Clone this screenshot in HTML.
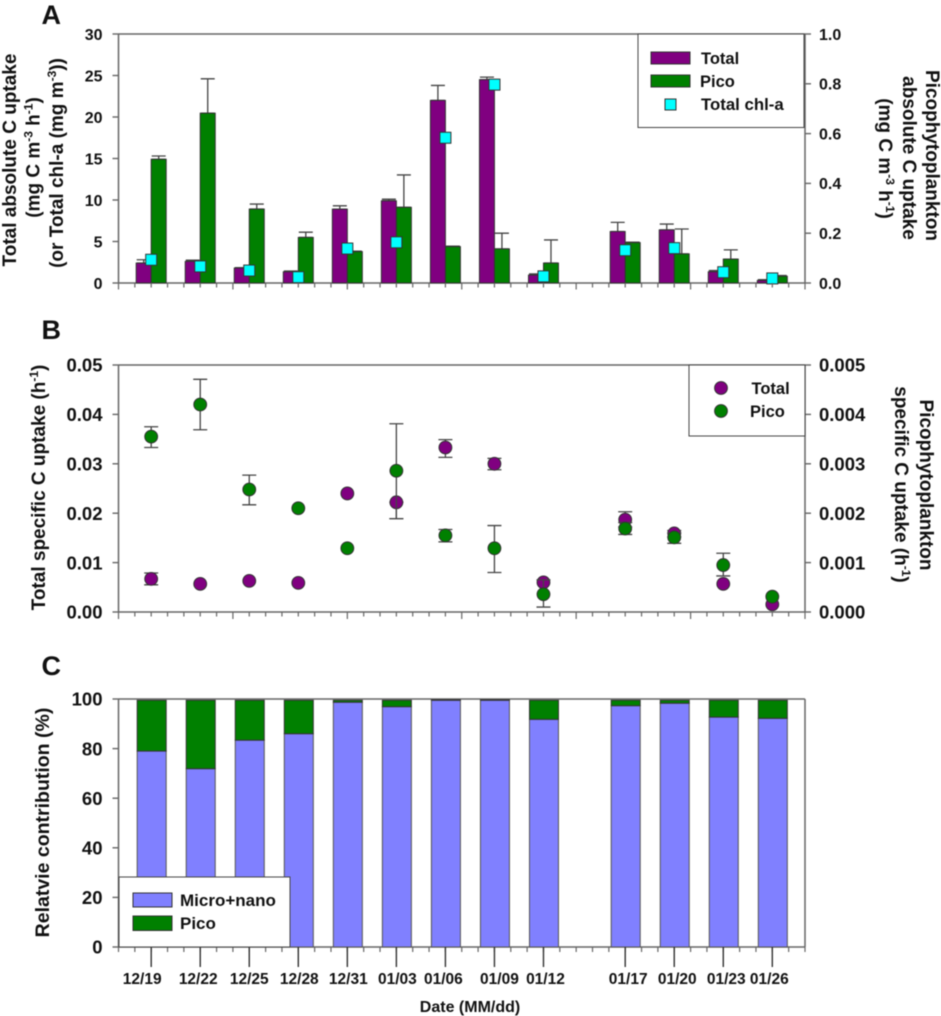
<!DOCTYPE html>
<html lang="en">
<head>
<meta charset="utf-8">
<title>Carbon uptake panels</title>
<style>
html,body{margin:0;padding:0;background:#fff;width:941px;height:1016px;overflow:hidden}
svg{display:block;filter:blur(0.4px)}
text{font-family:"Liberation Sans",sans-serif;font-weight:bold;fill:#111}
</style>
</head>
<body>
<svg id="chart" xmlns="http://www.w3.org/2000/svg" width="941" height="1016" viewBox="0 0 941 1016">
  <rect x="0" y="0" width="941" height="1016" fill="#fff"/>
  <g id="layerA"></g>
  <g id="layerB"></g>
  <g id="layerC"></g>

  <text x="41.5" y="24" font-size="27">A</text>
  <text x="41.5" y="339" font-size="27">B</text>
  <text x="41.5" y="675" font-size="27">C</text>

  <g font-size="19" text-anchor="middle">
    <text transform="translate(16,160) rotate(-90)">Total absolute C uptake</text>
    <text transform="translate(39.5,157.5) rotate(-90)">(mg C m<tspan font-size="12" dy="-7">-3</tspan><tspan dy="7"> h</tspan><tspan font-size="12" dy="-7">-1</tspan><tspan dy="7">)</tspan></text>
    <text transform="translate(63,163) rotate(-90)">(or Total chl-a (mg m<tspan font-size="12" dy="-7">-3</tspan><tspan dy="7">))</tspan></text>
  </g>
  <g font-size="19" text-anchor="middle">
    <text transform="translate(926,155.5) rotate(90)">Picophytoplankton</text>
    <text transform="translate(903,158) rotate(90)">absolute C uptake</text>
    <text transform="translate(879,158.5) rotate(90)">(mg C m<tspan font-size="12" dy="-7">-3</tspan><tspan dy="7"> h</tspan><tspan font-size="12" dy="-7">-1</tspan><tspan dy="7">)</tspan></text>
  </g>
  <text font-size="19" text-anchor="middle" transform="translate(45,487.5) rotate(-90)">Total specific C uptake (h<tspan font-size="12" dy="-7">-1</tspan><tspan dy="7">)</tspan></text>
  <g font-size="19" text-anchor="middle">
    <text transform="translate(920,485) rotate(90)">Picophytoplankton</text>
    <text transform="translate(895,484.5) rotate(90)">specific C uptake (h<tspan font-size="12" dy="-7">-1</tspan><tspan dy="7">)</tspan></text>
  </g>
  <text font-size="19.5" text-anchor="middle" transform="translate(49,822.5) rotate(-90)">Relatvie contribution (%)</text>
  <text font-size="16" text-anchor="middle" x="470" y="1012">Date (MM/dd)</text>
</svg>
<script>
// ---- shared categories ----
const dateLabels = ['12/19','12/22','12/25','12/28','12/31','01/03','01/06','01/09','01/12','01/17','01/20','01/23','01/26'];
const dayIndex = [2,5,8,11,14,17,20,23,26,31,34,37,40];

// ---- panel A values ----
const absTotal = [2.4,2.6,1.8,1.35,8.9,9.9,22,24.5,0.95,6.2,6.4,1.35,0.3];
const absTotalErrTop = [2.8,2.75,1.85,1.45,9.3,10.1,23.8,24.8,1.1,7.3,7.1,1.5,0.4];
const absPico = [0.497,0.682,0.297,0.183,0.126,0.304,0.146,0.137,0.08,0.162,0.117,0.096,0.027];
const absPicoErrTop = [0.51,0.82,0.317,0.204,0.128,0.434,0.148,0.2,0.173,0.164,0.217,0.133,0.03];
const chlA = [2.8,2.0,1.5,0.7,4.15,4.9,17.5,23.9,0.8,3.95,4.2,1.3,0.55];
const ticksALeft = ['0','5','10','15','20','25','30'];
const ticksARight = ['0.0','0.2','0.4','0.6','0.8','1.0'];

// ---- panel B values ----
const specTotal = [0.0067,0.0057,0.0063,0.0059,0.024,0.0222,0.0333,0.030,0.006,0.0187,0.0159,0.0057,0.00155];
const specTotalErrLow = [0.0055,0.0057,0.0063,0.0059,0.024,0.0189,0.0313,0.0288,0.006,0.0172,0.0152,0.0057,0.00155];
const specTotalErrHigh = [0.0079,0.0057,0.0063,0.0059,0.024,0.0222,0.0349,0.0311,0.006,0.0203,0.0165,0.0057,0.00155];
const specPico = [0.00355,0.0042,0.00248,0.0021,0.00129,0.00286,0.00155,0.00129,0.00036,0.00169,0.00151,0.00095,0.00031];
const specPicoErrLow = [0.00333,0.00369,0.00217,0.0021,0.00129,0.00189,0.00142,0.0008,0.0001,0.00157,0.00139,0.00073,0.00031];
const specPicoErrHigh = [0.00375,0.00471,0.00277,0.0021,0.00129,0.00381,0.00167,0.00175,0.00065,0.00181,0.0016,0.00119,0.00031];
const ticksBLeft = ['0.00','0.01','0.02','0.03','0.04','0.05'];
const ticksBRight = ['0.000','0.001','0.002','0.003','0.004','0.005'];

// ---- panel C values ----
const shareMicro = [79,71.9,83.4,86,98.7,96.9,99.5,99.5,91.8,97.3,98.3,92.7,92.2];
const sharePico = [20.5,27.6,16.1,13.5,0.8,2.6,0.2,0.2,7.7,2.2,1.2,6.8,7.3];
const ticksC = ['0','20','40','60','80','100'];

// layout-only horizontal nudges of the printed date labels
const labelNudge = [-9,-2,0,1,1,1,-2,5,2,3,3,3,-3];

const NS = 'http://www.w3.org/2000/svg';
const PURPLE = '#800080', GREEN = '#008000', CYAN = '#00ffff', PERI = '#8080ff';
const EDGE = '#333', AXIS = '#666';
const PLOT_LEFT = 118.5, PLOT_RIGHT = 805, DAY_SPAN = 42;

function svgEl(parent, tag, attrs, text) {
  const el = document.createElementNS(NS, tag);
  for (const k in attrs) el.setAttribute(k, attrs[k]);
  if (text !== undefined) el.textContent = text;
  parent.appendChild(el);
  return el;
}

const xScale = d => PLOT_LEFT + d / DAY_SPAN * (PLOT_RIGHT - PLOT_LEFT);
const linear = (max, bottom, top) => v => bottom - v / max * (bottom - top);

const yALeft = linear(30, 283, 34);
const yARight = linear(1, 283, 34);
const yBLeft = linear(0.05, 612, 365);
const yBRight = linear(0.005, 612, 365);
const yC = linear(100, 947, 699);

const layerA = document.getElementById('layerA');
const layerB = document.getElementById('layerB');
const layerC = document.getElementById('layerC');

function drawFrame(layer, top, bottom, rightDark) {
  const frame = svgEl(layer, 'path', {
    d: `M${PLOT_LEFT} ${top}H${PLOT_RIGHT}M${PLOT_LEFT} ${top}V${bottom}H${PLOT_RIGHT}M${PLOT_RIGHT} ${top}V${bottom}`,
    fill: 'none', stroke: rightDark, 'stroke-width': 1.5
  });
  
  
}

function drawDayTicks(layer, bottom, shortLen, longLen) {
  for (let d = 0; d <= DAY_SPAN; d++) {
    const len = d % 7 === 0 ? longLen : shortLen;
    const t = svgEl(layer, 'line', {
      x1: xScale(d), x2: xScale(d), y1: bottom, y2: bottom + len, stroke: AXIS, 'stroke-width': 1.2
    });
    
    
  }
}

function drawYTicks(layer, labels, scale, side, fontSize) {
  labels.forEach(lab => {
    const y = scale(Number(lab));
    const x0 = side === 'left' ? PLOT_LEFT : PLOT_RIGHT;
    const x1 = side === 'left' ? PLOT_LEFT - 6 : PLOT_RIGHT + 6;
    const t = svgEl(layer, 'line', { x1: x0, x2: x1, y1: y, y2: y, stroke: AXIS, 'stroke-width': 1.4 });
    
    
    const txt = svgEl(layer, 'text', {
      x: side === 'left' ? 102.5 : PLOT_RIGHT + 14,
      y: y + fontSize * 0.36,
      'font-size': fontSize,
      'text-anchor': side === 'left' ? 'end' : 'start'
    }, lab);
    
    
  });
}

function drawError(layer, cx, yHigh, yLow) {
  const e = svgEl(layer, 'path', {
    d: `M${cx} ${yHigh}V${yLow}M${cx - 7} ${yHigh}h14M${cx - 7} ${yLow}h14`,
    stroke: '#444', 'stroke-width': 1.3, fill: 'none'
  });
  
  
}

// ---------- Panel A ----------
drawFrame(layerA, 34, 283, AXIS);
dayIndex.forEach((d, i) => {
  const cx = xScale(d);
  drawError(layerA, cx - 7.5, yALeft(absTotalErrTop[i]), yALeft(absTotal[i]));
  drawError(layerA, cx + 7.5, yARight(absPicoErrTop[i]), yARight(absPico[i]));
  const barT = svgEl(layerA, 'rect', {
    x: cx - 15, y: yALeft(absTotal[i]), width: 15, height: 283 - yALeft(absTotal[i]),
    fill: PURPLE, stroke: EDGE, 'stroke-width': 1
  });
  
  
  const barP = svgEl(layerA, 'rect', {
    x: cx, y: yARight(absPico[i]), width: 15, height: 283 - yARight(absPico[i]),
    fill: GREEN, stroke: EDGE, 'stroke-width': 1
  });
  
  
});
dayIndex.forEach((d, i) => {
  const m = svgEl(layerA, 'rect', {
    x: xScale(d) - 5.5, y: yALeft(chlA[i]) - 5.5, width: 11, height: 11,
    fill: CYAN, stroke: EDGE, 'stroke-width': 1
  });
  
  
});
drawDayTicks(layerA, 283, 4.5, 6.5);
drawYTicks(layerA, ticksALeft, yALeft, 'left', 16);
drawYTicks(layerA, ticksARight, yARight, 'right', 16);

const legendA = svgEl(layerA, 'g', {});


const legendABox = svgEl(legendA, 'rect', { x: 638, y: 34, width: 166, height: 93.5, fill: '#fff', stroke: '#444', 'stroke-width': 1 });


const swatchA1 = svgEl(legendA, 'rect', { x: 651, y: 52, width: 39, height: 12, fill: PURPLE, stroke: EDGE, 'stroke-width': 1 });


const labelA1 = svgEl(legendA, 'text', { x: 701, y: 64, 'font-size': 16.5 }, 'Total');


const swatchA2 = svgEl(legendA, 'rect', { x: 651, y: 75, width: 39, height: 12, fill: GREEN, stroke: EDGE, 'stroke-width': 1 });


const labelA2 = svgEl(legendA, 'text', { x: 700, y: 87, 'font-size': 16.5 }, 'Pico');


const swatchA3 = svgEl(legendA, 'rect', { x: 665, y: 99, width: 11, height: 11, fill: CYAN, stroke: EDGE, 'stroke-width': 1 });


const labelA3 = svgEl(legendA, 'text', { x: 701, y: 110, 'font-size': 16.8 }, 'Total chl-a');



// ---------- Panel B ----------
drawFrame(layerB, 365, 612, AXIS);
dayIndex.forEach((d, i) => {
  const cx = xScale(d);
  if (specTotalErrHigh[i] > specTotalErrLow[i]) {
    drawError(layerB, cx, yBLeft(specTotalErrHigh[i]), yBLeft(specTotalErrLow[i]));
  }
  const dotT = svgEl(layerB, 'circle', { cx: cx, cy: yBLeft(specTotal[i]), r: 6.4, fill: PURPLE, stroke: EDGE, 'stroke-width': 1 });
  
  
});
dayIndex.forEach((d, i) => {
  const cx = xScale(d);
  if (specPicoErrHigh[i] > specPicoErrLow[i]) {
    drawError(layerB, cx, yBRight(specPicoErrHigh[i]), yBRight(specPicoErrLow[i]));
  }
  const dotP = svgEl(layerB, 'circle', { cx: cx, cy: yBRight(specPico[i]), r: 6.4, fill: GREEN, stroke: EDGE, 'stroke-width': 1 });
  
  
});
drawDayTicks(layerB, 612, 4.5, 7);
drawYTicks(layerB, ticksBLeft, yBLeft, 'left', 18.5);
drawYTicks(layerB, ticksBRight, yBRight, 'right', 18.5);

const legendB = svgEl(layerB, 'g', {});


const legendBBox = svgEl(legendB, 'rect', { x: 689, y: 365, width: 116, height: 71, fill: '#fff', stroke: '#444', 'stroke-width': 1 });


const dotB1 = svgEl(legendB, 'circle', { cx: 721, cy: 388, r: 6.4, fill: PURPLE, stroke: EDGE, 'stroke-width': 1 });


const labelB1 = svgEl(legendB, 'text', { x: 751.5, y: 394, 'font-size': 16.5 }, 'Total');


const dotB2 = svgEl(legendB, 'circle', { cx: 721, cy: 411, r: 6.4, fill: GREEN, stroke: EDGE, 'stroke-width': 1 });


const labelB2 = svgEl(legendB, 'text', { x: 750, y: 417, 'font-size': 16.5 }, 'Pico');



// ---------- Panel C ----------
drawFrame(layerC, 699, 947, AXIS);
dayIndex.forEach((d, i) => {
  const left = xScale(d) - 14;
  const microTop = yC(shareMicro[i]);
  const picoTop = yC(shareMicro[i] + sharePico[i]);
  const barM = svgEl(layerC, 'rect', {
    x: left, y: microTop, width: 29, height: 947 - microTop, fill: PERI, stroke: '#555', 'stroke-width': 1
  });
  
  
  const barP = svgEl(layerC, 'rect', {
    x: left, y: picoTop, width: 29, height: microTop - picoTop, fill: GREEN, stroke: EDGE, 'stroke-width': 1
  });
  
  
});
for (let d = 0; d <= DAY_SPAN; d++) {
  const minor = svgEl(layerC, 'line', { x1: xScale(d), x2: xScale(d), y1: 947, y2: 952, stroke: AXIS, 'stroke-width': 1.2 });
  
  
}
dayIndex.forEach((d, i) => {
  const major = svgEl(layerC, 'line', { x1: xScale(d), x2: xScale(d), y1: 947, y2: 967, stroke: '#333', 'stroke-width': 1.4 });
  
  
  const lab = svgEl(layerC, 'text', {
    x: xScale(d) + labelNudge[i], y: 984, 'font-size': 15.5, 'text-anchor': 'middle'
  }, dateLabels[i]);
  
  
});
drawYTicks(layerC, ticksC, yC, 'left', 18.5);

const legendC = svgEl(layerC, 'g', {});


const legendCBox = svgEl(legendC, 'rect', { x: 119, y: 877, width: 171, height: 70, fill: '#fff', stroke: '#444', 'stroke-width': 1 });


const swatchC1 = svgEl(legendC, 'rect', { x: 133, y: 893, width: 39, height: 14, fill: PERI, stroke: EDGE, 'stroke-width': 1 });


const labelC1 = svgEl(legendC, 'text', { x: 180, y: 906, 'font-size': 17 }, 'Micro+nano');


const swatchC2 = svgEl(legendC, 'rect', { x: 133, y: 916, width: 39, height: 14.5, fill: GREEN, stroke: EDGE, 'stroke-width': 1 });


const labelC2 = svgEl(legendC, 'text', { x: 180, y: 929, 'font-size': 17 }, 'Pico');


</script>
</body>
</html>
